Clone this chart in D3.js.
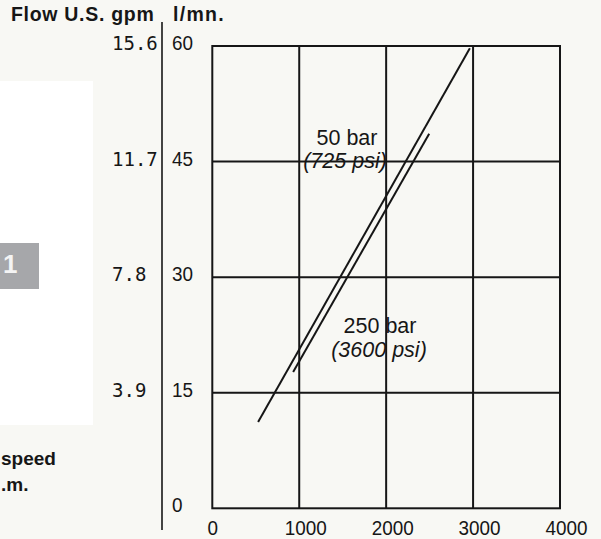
<!DOCTYPE html>
<html><head><meta charset="utf-8">
<script src="https://cdn.jsdelivr.net/npm/d3@7"></script>
<style>
body{margin:0;background:#f8f8f4;}
svg{display:block;}
</style>
</head><body>
<svg id="c" width="601" height="539"></svg>
<script>
// ---- data ----
const rpmTicks = [0, 1000, 2000, 3000, 4000];
const lmnTicks = [0, 15, 30, 45, 60];
const gpmTickLmn = [15, 30, 45, 60];
const gpmLabels = ["3.9", "7.8", "11.7", "15.6"];
const flow50bar = [[527, 11.2], [2963, 59.7]];
const flow250bar = [[930, 17.7], [2495, 48.6]];

const svg = d3.select("#c");
const x = d3.scaleLinear().domain([0, 4000]).range([212.3, 560]);
const y = d3.scaleLinear().domain([0, 60]).range([508.3, 46]);
const ink = "#161616";
const sans = "Liberation Sans, Arial, Helvetica, sans-serif";

// left white panel & grey tab (scan remnants)
svg.append("rect").attr("x", 0).attr("y", 81).attr("width", 93).attr("height", 344).attr("fill", "#ffffff");
svg.append("rect").attr("x", 0).attr("y", 243).attr("width", 39).attr("height", 46).attr("fill", "#a6a7aa");
svg.append("text").attr("x", 3).attr("y", 273)
  .attr("font-family", sans).attr("font-weight", "bold")
  .attr("font-size", 26).attr("fill", "#f4f4f4").text("1");
svg.append("text").attr("x", 1).attr("y", 465)
  .attr("font-family", sans).attr("font-weight", "bold")
  .attr("font-size", 19).attr("fill", ink).text("speed");
svg.append("text").attr("x", 1).attr("y", 491)
  .attr("font-family", sans).attr("font-weight", "bold")
  .attr("font-size", 19).attr("fill", ink).text(".m.");

// titles
svg.append("text").attr("x", 11).attr("y", 21)
  .attr("font-family", sans).attr("font-weight", "bold")
  .attr("font-size", 19.5).attr("letter-spacing", 0.7).attr("fill", ink).text("Flow U.S. gpm");
svg.append("text").attr("x", 173).attr("y", 21)
  .attr("font-family", sans).attr("font-weight", "bold")
  .attr("font-size", 19.5).attr("letter-spacing", 1.3).attr("fill", ink).text("l/mn.");

// separator line between scales
svg.append("line").attr("x1", 162).attr("x2", 162).attr("y1", 22).attr("y2", 530)
  .attr("stroke", ink).attr("stroke-width", 1.6);

// grid
const grid = svg.append("g");
grid.selectAll("line.v").data(rpmTicks.filter(d => d > 0 && d < 4000)).join("line")
  .attr("x1", d => x(d)).attr("x2", d => x(d)).attr("y1", y(60)).attr("y2", y(0))
  .attr("stroke", ink).attr("stroke-width", 2);
grid.selectAll("line.h").data(lmnTicks.filter(d => d > 0 && d < 60)).join("line")
  .attr("x1", x(0)).attr("x2", x(4000)).attr("y1", d => y(d)).attr("y2", d => y(d))
  .attr("stroke", ink).attr("stroke-width", 2);
svg.append("rect").attr("x", x(0)).attr("y", y(60)).attr("width", x(4000) - x(0)).attr("height", y(0) - y(60))
  .attr("fill", "none").attr("stroke", ink).attr("stroke-width", 2);

// x axis labels (condensed look)
const xAxis = svg.append("g").attr("transform", `translate(0,${y(0)})`)
  .call(d3.axisBottom(x).tickValues(rpmTicks).tickSize(0).tickFormat(d3.format("d")));
xAxis.select(".domain").remove();
xAxis.selectAll("text").attr("dy", null).attr("y", 27).attr("x", 0)
  .attr("transform", d => `translate(${d > 0 ? 6 : 0},0) scale(0.9,1)`)
  .attr("font-family", sans).attr("font-size", 21).attr("fill", ink);

// l/mn axis labels
const yAxis = svg.append("g").attr("transform", "translate(172,0)")
  .call(d3.axisRight(y).tickValues(lmnTicks).tickSize(0).tickPadding(0));
yAxis.select(".domain").remove();
yAxis.selectAll("text").attr("dy", null).attr("y", 3.5).attr("x", 0).attr("text-anchor", "start")
  .attr("transform", "scale(0.9,1)")
  .attr("font-family", sans).attr("font-size", 21).attr("fill", ink);

// gpm axis labels
const gAxis = svg.append("g").attr("transform", "translate(112,0)")
  .call(d3.axisRight(y).tickValues(gpmTickLmn).tickSize(0).tickPadding(0)
    .tickFormat((d, i) => gpmLabels[i]));
gAxis.select(".domain").remove();
gAxis.selectAll("text").attr("dy", null).attr("y", 3.5).attr("x", 0).attr("text-anchor", "start")
  .attr("font-family", "DejaVu Sans Mono, monospace")
  .attr("font-size", 19).attr("fill", ink);

// curves
const line = d3.line().x(d => x(d[0])).y(d => y(d[1]));
[flow50bar, flow250bar].forEach(s => {
  svg.append("path").attr("d", line(s)).attr("fill", "none")
    .attr("stroke", ink).attr("stroke-width", 2);
});

// annotations
const ann = svg.append("g").attr("font-family", sans)
  .attr("font-size", 21.5).attr("fill", ink).attr("text-anchor", "middle");
ann.append("text").attr("x", 347).attr("y", 145).text("50 bar");
ann.append("text").attr("x", 345).attr("y", 168).attr("font-style", "italic").text("(725 psi)");
ann.append("text").attr("x", 380).attr("y", 333).text("250 bar");
ann.append("text").attr("x", 379).attr("y", 357).attr("font-style", "italic").text("(3600 psi)");
</script>
</body></html>
